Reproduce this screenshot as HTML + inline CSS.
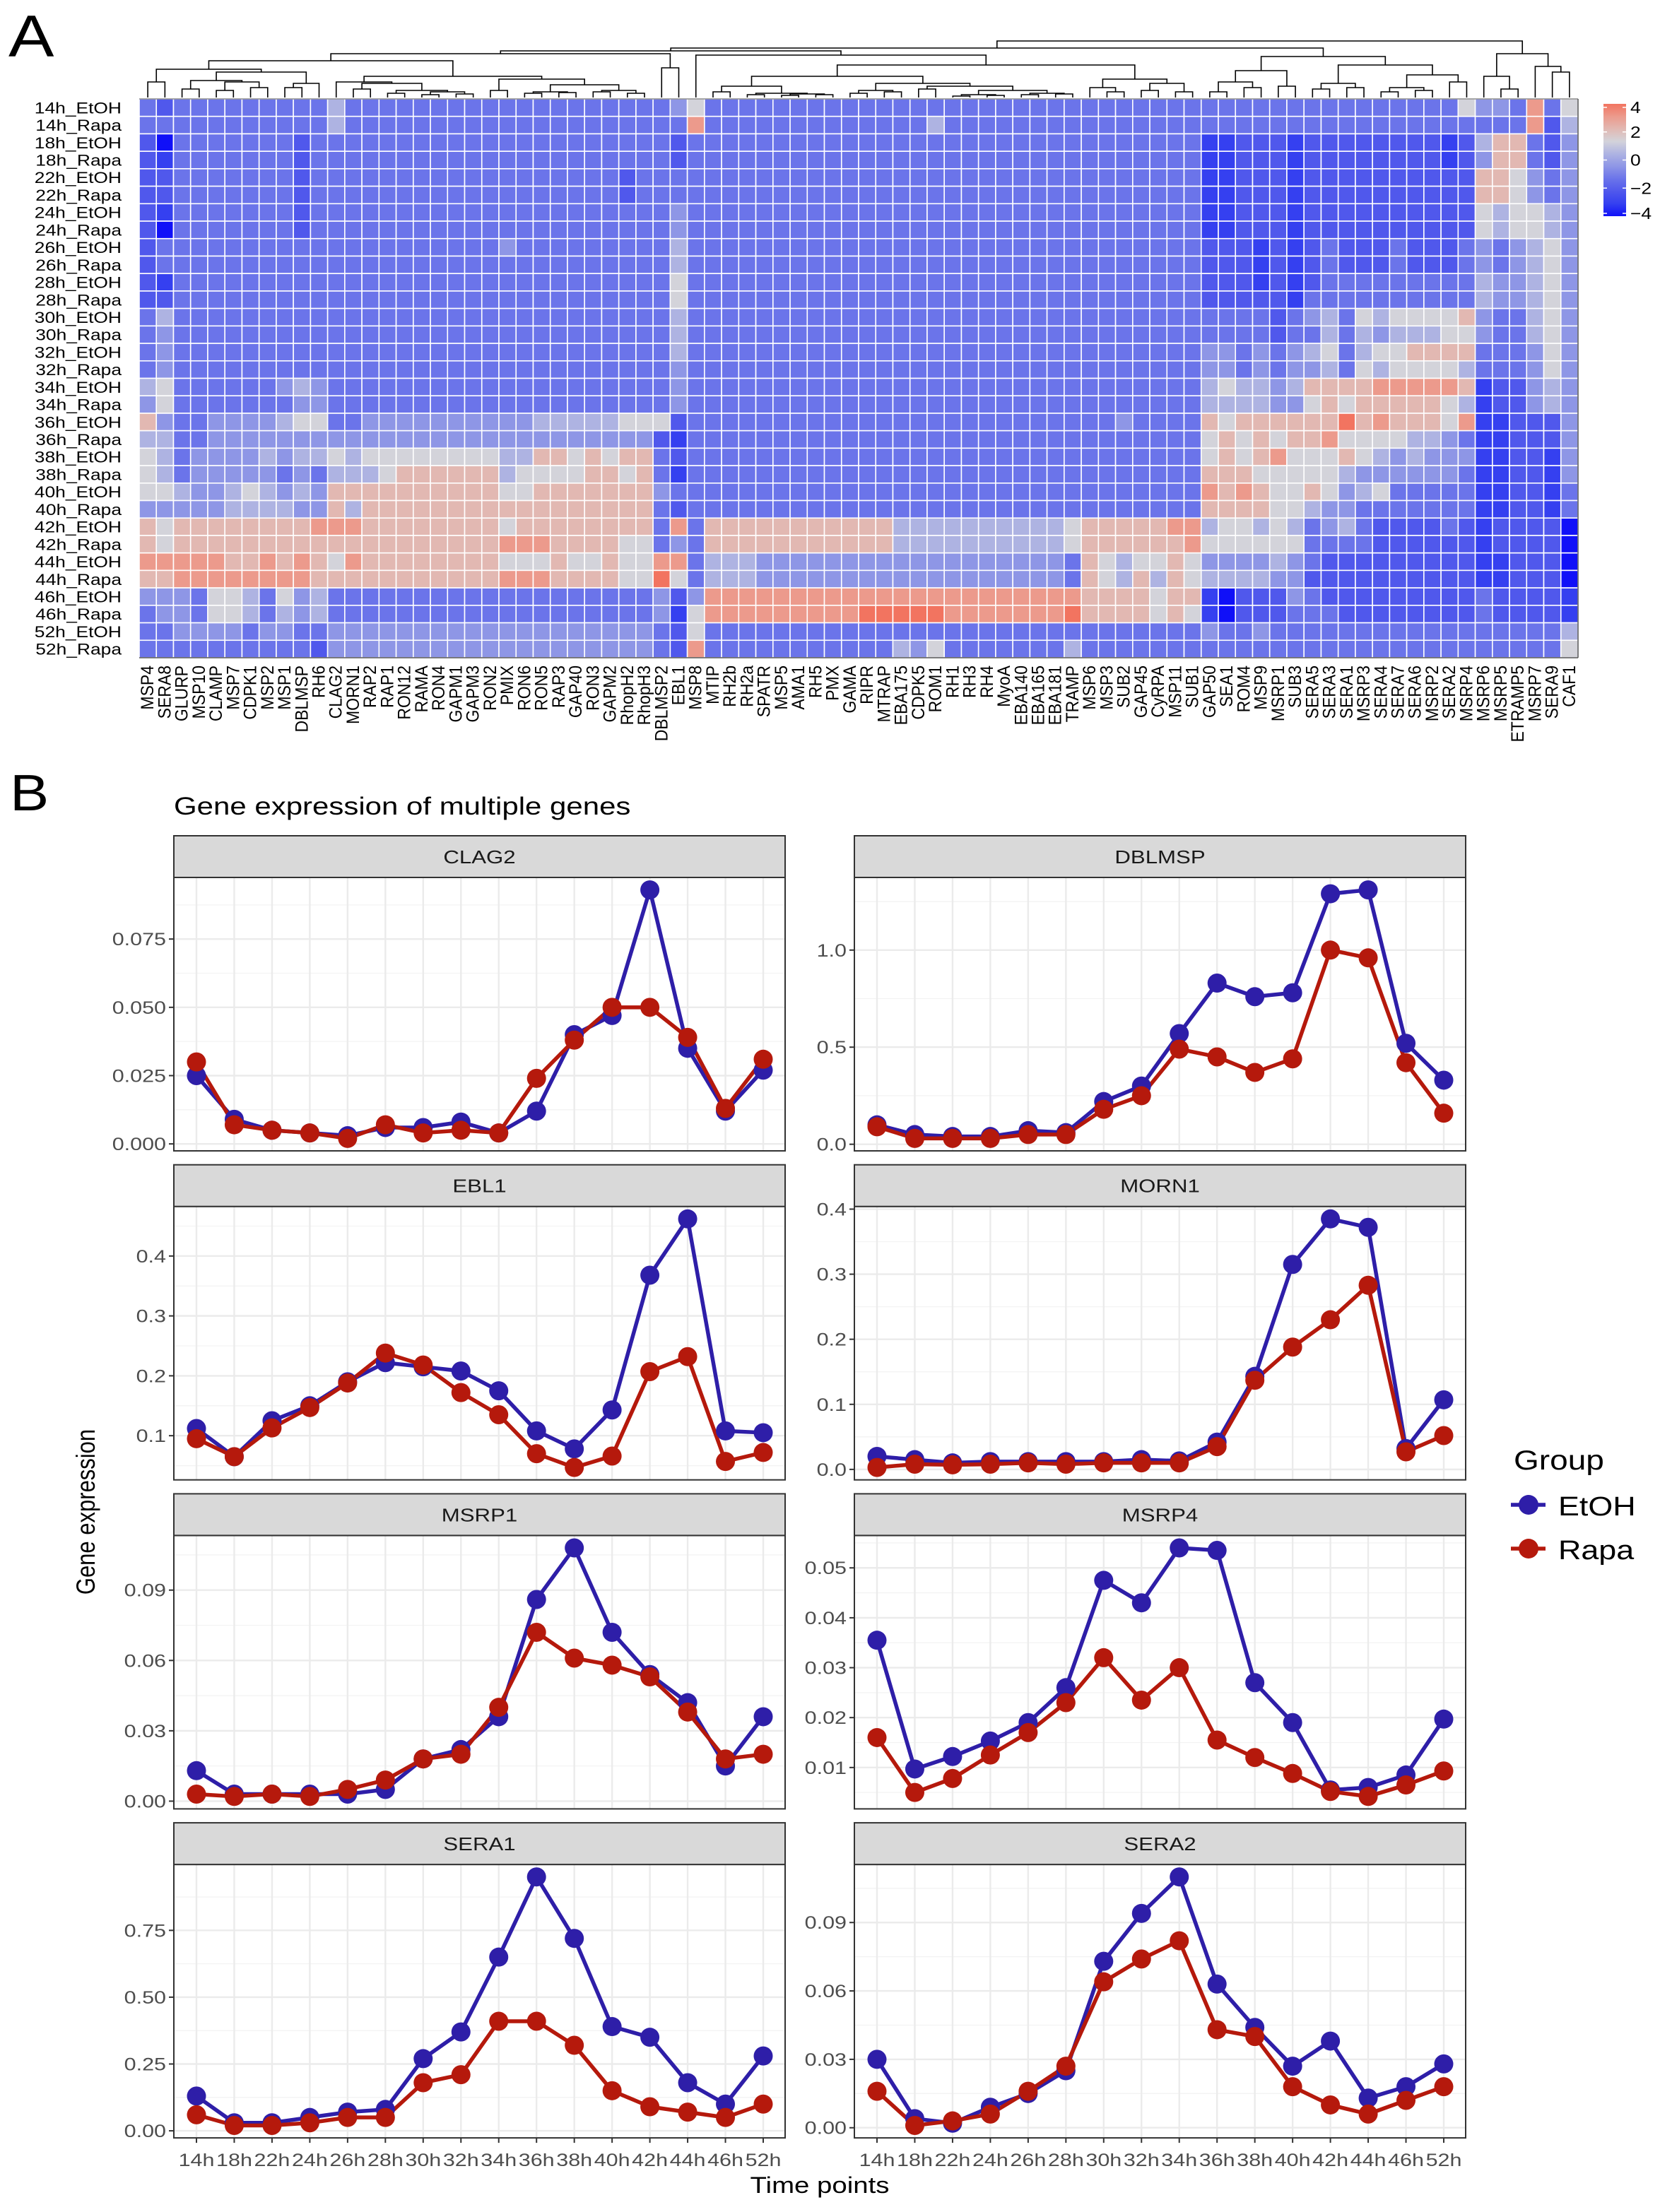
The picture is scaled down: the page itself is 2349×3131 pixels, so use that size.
<!DOCTYPE html>
<html><head><meta charset="utf-8"><title>Gene expression figure</title>
<style>html,body{margin:0;padding:0;background:#fff}svg{display:block}text{font-family:"Liberation Sans",Arial,sans-serif}</style>
</head><body>
<svg id="fig" xmlns="http://www.w3.org/2000/svg" width="2349" height="3131" viewBox="0 0 2349 3131"></svg>
<script>
// ===== Heatmap data =====
const rowLabels = ["14h_EtOH","14h_Rapa","18h_EtOH","18h_Rapa","22h_EtOH","22h_Rapa","24h_EtOH","24h_Rapa","26h_EtOH","26h_Rapa","28h_EtOH","28h_Rapa","30h_EtOH","30h_Rapa","32h_EtOH","32h_Rapa","34h_EtOH","34h_Rapa","36h_EtOH","36h_Rapa","38h_EtOH","38h_Rapa","40h_EtOH","40h_Rapa","42h_EtOH","42h_Rapa","44h_EtOH","44h_Rapa","46h_EtOH","46h_Rapa","52h_EtOH","52h_Rapa"];
const colLabels = ["MSP4","SERA8","GLURP","MSP10","CLAMP","MSP7","CDPK1","MSP2","MSP1","DBLMSP","RH6","CLAG2","MORN1","RAP2","RAP1","RON12","RAMA","RON4","GAPM1","GAPM3","RON2","PMIX","RON6","RON5","RAP3","GAP40","RON3","GAPM2","RhopH2","RhopH3","DBLMSP2","EBL1","MSP8","MTIP","RH2b","RH2a","SPATR","MSP5","AMA1","RH5","PMX","GAMA","RIPR","MTRAP","EBA175","CDPK5","ROM1","RH1","RH3","RH4","MyoA","EBA140","EBA165","EBA181","TRAMP","MSP6","MSP3","SUB2","GAP45","CyRPA","MSP11","SUB1","GAP50","SEA1","ROM4","MSP9","MSRP1","SUB3","SERA5","SERA3","SERA1","MSRP3","SERA4","SERA7","SERA6","MSRP2","SERA2","MSRP4","MSRP6","MSRP5","ETRAMP5","MSRP7","SERA9","CAF1"];
// levels 0..9 (0 = -4 deep blue ... 9 = +4 red)
const heatRows = [
"32 333333333 5333333333333333333 3 4 6 3333333333333333333333 3333333 333333 3333333336 443836",
"33 333333333 5333333333333333333 3 3 8 3333333333333533333333 3333333 333333 3333333333 333825",
"20 333333323 3333333333333333333 3 2 3 3333333333333333333333 3333333 112221 2222222212 577324",
"21 333333323 3333333333333333333 3 2 3 3333333333333333333333 3333333 112221 2222222212 477324",
"22 333333323 3333333333333333323 3 3 3 3333333333333333333333 3333333 112221 2222222222 776434",
"22 333333323 3333333333333333323 3 3 3 3333333333333333333333 3333333 112221 2222222222 776434",
"21 333333323 3333333333333333333 3 4 3 3333333333333333333333 3333333 112221 2222222222 656654",
"20 333333323 3333333333333333333 3 4 3 3333333333333333333333 3333333 112221 2222222222 656654",
"23 333333333 3333333333433333333 3 5 3 3333333333333333333333 3333333 222121 2322232223 434564",
"23 333333333 3333333333333333333 3 5 3 3333333333333333333333 3333333 222121 2322232223 434564",
"21 333333333 3333333333333333333 3 6 3 3333333333333333333333 3333333 222121 2333333333 544564",
"22 333333333 3333333333333333333 3 6 3 3333333333333333333333 3333333 222221 3333333333 544564",
"35 333333333 3333333333333333333 3 5 3 3333333333333333333333 3333333 333323 4536566667 433564",
"34 333333333 3333333333333333333 3 5 3 3333333333333333333333 3333333 333323 3535455566 433564",
"34 333333333 3333333333333333333 3 5 3 3333333333333333333333 3333333 443434 5635667777 333464",
"34 333333333 3333333333333333333 3 4 3 3333333333333333333333 3333333 443434 4536566665 333464",
"56 333333454 3333333333333333333 3 4 3 3333333333333333333333 3333333 565545 7777888887 122454",
"46 333333344 3333333333333333333 3 4 3 3333333333333333333333 3333333 555544 6767777765 122454",
"74 334444566 3344444444445555566 6 2 3 3333333333333333333333 3343333 767777 7797877768 112224",
"55 334444444 4444444444444444444 2 1 3 3333333333333333333333 3333333 676767 7866665543 112224",
"65 344445455 6566666666557767677 3 2 3 3333333333333333333333 3333333 676786 6676545444 112214",
"65 344444343 5556777777566667767 3 1 3 3333333333333333333333 3333333 777666 6654444443 112214",
"66 544565454 7777777777667777777 4 3 3 3333333333333333333333 3333333 878766 7645633333 112213",
"44 444555544 7577777777777777777 3 2 3 3333333333333333333333 3333333 777766 5443333333 112213",
"76 777777778 8877777777677777777 3 8 3 7777777777755555555556 7777788 566565 3453222232 122220",
"76 777777777 7777777777888777766 3 4 3 7777777777755555555556 7777778 666666 3333222222 122220",
"88 888778787 6877777777666766766 8 8 3 5554444444444444444443 7656676 444454 3222222222 112220",
"77 888888887 7777777777888777766 9 6 3 5554444444444444444443 7657576 555544 2222222222 112220",
"44 436653645 3333333333333333333 4 2 4 8888888888888888888888 7777677 102224 3222222222 322221",
"34 436653545 3333333333333333333 4 1 6 8888888889999988888889 7777676 102223 3322222222 322221",
"33 444434433 4444444444444444444 3 2 6 3333333333333333333333 3333333 433433 3333333333 333335",
"33 333333332 4444444444444444444 3 2 8 3333333333354633333335 3333333 333333 3333333333 333336"
];
const levelColors = ["#1010F8","#3540F0","#5058EC","#6B74EA","#8E96E6","#AEB3E2","#D3D3DA","#E2B8B2","#EC9A8C","#F27460"];
const legendTicks = [4,2,0,-2,-4];
const legendTickLabels = ["4","2","0","\u22122","\u22124"];
// dendrogram: [height, left, right]; leaves are column indices
const G33 = [30,[16,[8,33,34],[6,[4,35,36],[5,[3,37,38],[4,39,40]]]],[20,[10,[6,41,42],[8,43,44]],[16,[12,45,46],[10,[4,[2,47,48],[3,49,50]],[6,[4,51,52],[5,53,54]]]]]];
const G55 = [26,[14,55,[8,56,57]],[20,[10,58,59],[8,60,61]]];
const L1 = [40,[22,0,1],[36,[24,[12,2,3],[22,[10,4,5],[14,6,7]]],[20,[14,8,9],10]]];
const L2 = [30,[22,11,[20,[12,12,13],[10,[6,14,15],[8,[4,16,17],[5,18,19]]]]],[26,[10,20,21],[18,[8,[6,22,23],[7,24,25]],[10,[8,26,27],[6,28,29]]]]];
const RG = [58,[38,[22,[8,62,63],[14,64,65]],[16,66,67]],[46,[20,[12,68,69],[14,70,71]],[32,[14,[8,72,73],[10,74,75]],[22,76,77]]]];
const SG = [62,[30,78,[12,79,80]],[44,81,[36,82,83]]];
const tree = [80,[70,[66,[62,[52,L1,L2],[42,30,31]],[60,32,[46,G33,G55]]],RG],SG];

// ===== Line chart data =====
const timeLabels = ["14h","18h","22h","24h","26h","28h","30h","32h","34h","36h","38h","40h","42h","44h","46h","52h"];
const geneNames = ["CLAG2","DBLMSP","EBL1","MORN1","MSRP1","MSRP4","SERA1","SERA2"];
const etohCLAG2 = [.025,.009,.005,.004,.003,.006,.006,.008,.004,.012,.040,.047,.093,.035,.012,.027];
const rapaCLAG2 = [.030,.007,.005,.004,.002,.007,.004,.005,.004,.024,.038,.050,.050,.039,.013,.031];
const etohDBLMSP = [.10,.05,.04,.04,.07,.06,.22,.30,.57,.83,.76,.78,1.29,1.31,.52,.33];
const rapaDBLMSP = [.09,.03,.03,.03,.05,.05,.18,.25,.49,.45,.37,.44,1.00,.96,.42,.16];
const etohEBL1 = [.112,.065,.125,.150,.190,.222,.215,.208,.175,.108,.078,.143,.368,.462,.108,.105];
const rapaEBL1 = [.095,.065,.113,.147,.188,.238,.218,.172,.135,.070,.047,.066,.207,.232,.057,.072];
const etohMORN1 = [.020,.015,.010,.012,.012,.012,.012,.015,.013,.042,.143,.315,.385,.372,.032,.107];
const rapaMORN1 = [.003,.008,.007,.008,.010,.008,.010,.010,.010,.035,.137,.188,.230,.283,.027,.052];
const etohMSRP1 = [.013,.003,.003,.003,.003,.005,.018,.022,.036,.086,.108,.072,.054,.042,.015,.036];
const rapaMSRP1 = [.003,.002,.003,.002,.005,.009,.018,.020,.040,.072,.061,.058,.053,.038,.018,.020];
const etohMSRP4 = [.0355,.0097,.0122,.0153,.019,.026,.0475,.043,.054,.0535,.027,.019,.0055,.006,.0085,.0197];
const rapaMSRP4 = [.016,.005,.0078,.0125,.017,.023,.032,.0235,.030,.0155,.012,.0088,.0052,.0042,.0065,.0093];
const etohSERA1 = [.13,.03,.03,.05,.07,.08,.27,.37,.65,.95,.72,.39,.35,.18,.10,.28];
const rapaSERA1 = [.06,.02,.02,.03,.05,.05,.18,.21,.41,.41,.32,.15,.09,.07,.05,.10];
const etohSERA2 = [.030,.004,.002,.009,.015,.025,.073,.094,.110,.063,.044,.027,.038,.013,.018,.028];
const rapaSERA2 = [.016,.001,.003,.006,.016,.027,.064,.074,.082,.043,.040,.018,.010,.006,.012,.018];
const ticksCLAG2 = [0,0.025,0.05,0.075];  const tickLabCLAG2 = ["0.000","0.025","0.050","0.075"];
const ticksDBLMSP = [0,0.5,1.0];          const tickLabDBLMSP = ["0.0","0.5","1.0"];
const ticksEBL1 = [0.1,0.2,0.3,0.4];      const tickLabEBL1 = ["0.1","0.2","0.3","0.4"];
const ticksMORN1 = [0,0.1,0.2,0.3,0.4];   const tickLabMORN1 = ["0.0","0.1","0.2","0.3","0.4"];
const ticksMSRP1 = [0,0.03,0.06,0.09];    const tickLabMSRP1 = ["0.00","0.03","0.06","0.09"];
const ticksMSRP4 = [0.01,0.02,0.03,0.04,0.05]; const tickLabMSRP4 = ["0.01","0.02","0.03","0.04","0.05"];
const ticksSERA1 = [0,0.25,0.5,0.75];     const tickLabSERA1 = ["0.00","0.25","0.50","0.75"];
const ticksSERA2 = [0,0.03,0.06,0.09];    const tickLabSERA2 = ["0.00","0.03","0.06","0.09"];

const etohSeries = [etohCLAG2,etohDBLMSP,etohEBL1,etohMORN1,etohMSRP1,etohMSRP4,etohSERA1,etohSERA2];
const rapaSeries = [rapaCLAG2,rapaDBLMSP,rapaEBL1,rapaMORN1,rapaMSRP1,rapaMSRP4,rapaSERA1,rapaSERA2];
const tickSets = [ticksCLAG2,ticksDBLMSP,ticksEBL1,ticksMORN1,ticksMSRP1,ticksMSRP4,ticksSERA1,ticksSERA2];
const tickLabelSets = [tickLabCLAG2,tickLabDBLMSP,tickLabEBL1,tickLabMORN1,tickLabMSRP1,tickLabMSRP4,tickLabSERA1,tickLabSERA2];

const NS = "http://www.w3.org/2000/svg";
const svg = document.getElementById('fig');
function el(tag, attrs, parent){ const e=document.createElementNS(NS,tag); for(const k in attrs) e.setAttribute(k,attrs[k]); (parent||svg).appendChild(e); return e; }
function txt(x,y,s,size,anchor,sx,parent,color){
  const t=el('text',{transform:`translate(${x},${y}) scale(${sx||1.2},1)`,'font-size':size,'text-anchor':anchor||'start',fill:color||'#000'},parent);
  t.textContent=s; return t;
}

// ===== Panel labels =====
let t = txt(12,80,"A",84,'start',1.15);


t = txt(14,1147,"B",72,'start',1.15);



// ===== Heatmap =====
const HX0=197, HX1=2233, HY0=140, HY1=931;
const nC=colLabels.length, nR=rowLabels.length;
const cw=(HX1-HX0)/nC, rh=(HY1-HY0)/nR;
const colX = j => HX0 + j*cw;
const rowY = i => HY0 + i*rh;
const hm = el('g',{});


heatRows.forEach((rs,i)=>{
  let s = rs.replace(/ /g,'');
  while(s.length<nC) s+='3';
  for(let j=0;j<nC;j++){
    const c=el('rect',{x:colX(j),y:rowY(i),width:cw,height:rh,fill:levelColors[+s[j]],stroke:'#fff','stroke-width':1.6},hm);
    
    
  }
});
el('line',{x1:HX0,y1:HY1,x2:HX1,y2:HY1,stroke:'#555','stroke-width':1.5});
el('line',{x1:HX1,y1:HY0,x2:HX1,y2:HY1,stroke:'#555','stroke-width':1.5});
el('line',{x1:HX0,y1:HY0,x2:HX1,y2:HY0,stroke:'#555','stroke-width':1});
rowLabels.forEach((lab,i)=>{
  const r=txt(172,rowY(i)+rh/2+8,lab,22,'end',1.2);
  
  
});
colLabels.forEach((lab,j)=>{
  const cx=colX(j)+cw/2+8;
  const c=el('text',{transform:`translate(${cx},942) rotate(-90) scale(1,1.1)`,'font-size':23,'text-anchor':'end',fill:'#000'});
  c.textContent=lab;
  
  
});
// dendrogram
const dg = el('g',{stroke:'#000','stroke-width':1.6,fill:'none'});


const DBASE=138;
function drawNode(n){
  if(typeof n==='number') return {x:colX(n)+cw/2,y:DBASE};
  const a=drawNode(n[1]), b=drawNode(n[2]); const y=DBASE-n[0];
  el('path',{d:`M${a.x},${a.y}V${y}H${b.x}V${b.y}`},dg);
  return {x:(a.x+b.x)/2,y:y};
}
drawNode(tree);
// color legend
const LX=2269, LW=32, LY0=147, LY1=306;
const grad=el('linearGradient',{id:'lg',x1:0,y1:1,x2:0,y2:0},el('defs',{}));
levelColors.forEach((c,k)=>el('stop',{offset:(k/(levelColors.length-1)),'stop-color':c},grad));
const leg=el('rect',{x:LX,y:LY0,width:LW,height:LY1-LY0,fill:'url(#lg)'});


const legY = v => LY1 - (v+4)/8*(LY1-LY0) ;
legendTicks.forEach((v,k)=>{
  const y=legY(v)+ (v===4?5:(v===-4?-4:0));
  el('line',{x1:LX,y1:y,x2:LX+5,y2:y,stroke:'#fff','stroke-width':1.5});
  el('line',{x1:LX+LW-5,y1:y,x2:LX+LW,y2:y,stroke:'#fff','stroke-width':1.5});
  const l=txt(LX+LW+6,y+8,legendTickLabels[k],23,'start',1.15);
  
  
});

// ===== Line charts =====
t = txt(246,1153,"Gene expression of multiple genes",35,'start',1.2);


const COLX=[246,1209], PW=865, PH=387, STRIPH=59;
const ETOH='#2E1EA8', RAPA='#B5190C';
geneNames.forEach((g,p)=>{
  const col=p%2, row=Math.floor(p/2);
  const x0=COLX[col], x1=x0+PW;
  const sTop=1183+row*465.7, pTop=sTop+STRIPH, pBot=pTop+PH;
  const e=etohSeries[p], r=rapaSeries[p], ticks=tickSets[p], tl=tickLabelSets[p];
  const all=e.concat(r); const mn=Math.min(...all), mx=Math.max(...all);
  const lo=mn-(mx-mn)*0.05, hi=mx+(mx-mn)*0.05;
  const yS = v => pBot - (v-lo)/(hi-lo)*PH;
  const xS = i => x0 + 32 + i*(PW-63)/(timeLabels.length-1);
  const pg=el('g',{});
  
  
  el('rect',{x:x0,y:pTop,width:PW,height:PH,fill:'#fff'},pg);
  // minor grid
  const step=ticks[1]-ticks[0];
  for(let k=-1;k<ticks.length;k++){
    const v=ticks[0]+(k+0.5)*step;
    if(v>lo && v<hi) el('line',{x1:x0,x2:x1,y1:yS(v),y2:yS(v),stroke:'#F3F3F3','stroke-width':1.3},pg);
  }
  ticks.forEach(v=>el('line',{x1:x0,x2:x1,y1:yS(v),y2:yS(v),stroke:'#EBEBEB','stroke-width':2.4},pg));
  timeLabels.forEach((tl2,i)=>el('line',{x1:xS(i),x2:xS(i),y1:pTop,y2:pBot,stroke:'#EBEBEB','stroke-width':2.4},pg));
  // lines
  [[e,ETOH,'etoh'],[r,RAPA,'rapa']].forEach(([d,c,nm])=>{
    const ln=el('polyline',{points:d.map((v,i)=>xS(i)+','+yS(v)).join(' '),fill:'none',stroke:c,'stroke-width':5.5,'stroke-linejoin':'round'},pg);
    
    
  });
  [[e,ETOH,'etoh'],[r,RAPA,'rapa']].forEach(([d,c,nm])=>{
    d.forEach((v,i)=>{
      const pt=el('circle',{cx:xS(i),cy:yS(v),r:13.5,fill:c},pg);
      
      
    });
  });
  el('rect',{x:x0,y:pTop,width:PW,height:PH,fill:'none',stroke:'#333','stroke-width':2},pg);
  // strip
  const st=el('rect',{x:x0,y:sTop,width:PW,height:STRIPH,fill:'#D9D9D9',stroke:'#333','stroke-width':2},pg);
  
  
  const stt=txt((x0+x1)/2,sTop+39,g,26,'middle',1.2,pg,'#1A1A1A');
  
  
  // y ticks
  ticks.forEach((v,k)=>{
    el('line',{x1:x0-7,x2:x0,y1:yS(v),y2:yS(v),stroke:'#333','stroke-width':2},pg);
    const yl=txt(x0-11,yS(v)+9,tl[k],25,'end',1.22,pg,'#4D4D4D');
    
    
  });
  if(row===3){
    timeLabels.forEach((lab,i)=>{
      el('line',{x1:xS(i),x2:xS(i),y1:pBot,y2:pBot+7,stroke:'#333','stroke-width':2},pg);
      const xl=txt(xS(i),pBot+40,lab,25,'middle',1.22,pg,'#4D4D4D');
      
      
    });
  }
});
t = el('text',{transform:'translate(134,2140) rotate(-90) scale(1,1.2)','font-size':31,'text-anchor':'middle',fill:'#000'});
t.textContent='Gene expression';


t = txt(1160,3104,'Time points',32,'middle',1.2);


// legend
t = txt(2142,2080,'Group',39,'start',1.18);


[['EtOH',ETOH,2130],['Rapa',RAPA,2192]].forEach(([nm,c,y])=>{
  const g=el('g',{});
  
  
  el('line',{x1:2138,x2:2187,y1:y,y2:y,stroke:c,'stroke-width':5.5},g);
  el('circle',{cx:2163,cy:y,r:14,fill:c},g);
  txt(2205,y+15,nm,38,'start',1.18,g);
});
</script>
</body></html>
